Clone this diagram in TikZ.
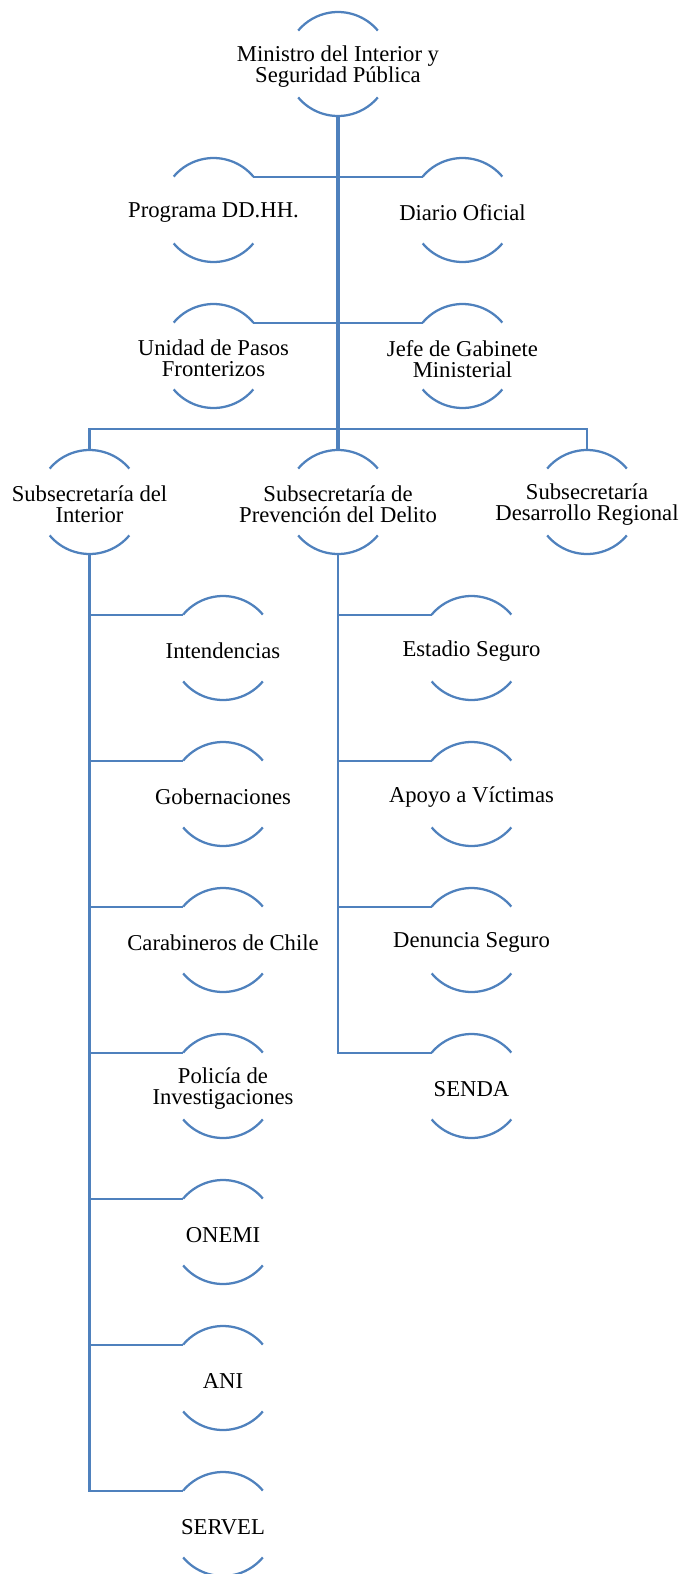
\documentclass[tikz,border=0pt]{standalone}
\usepackage{fontspec}
\setmainfont{Liberation Serif}
\usepackage{tikz}
\usetikzlibrary{calc}

\definecolor{orgblue}{RGB}{79,129,189}

\begin{document}
\begin{tikzpicture}[x=0.75pt, y=0.75pt,
  unit/.style={circle, minimum size=78pt, inner sep=0pt, outer sep=0pt},
  txt/.style={align=center, inner sep=0pt, yshift=-2pt, font=\fontsize{17}{15.75}\selectfont},
  rim/.style={orgblue, line width=1.7pt},
  link/.style={orgblue, line width=1.6pt},
  trunk/.style={orgblue, line width=2.3pt}]
\useasboundingbox (0,0) rectangle (682,-1574);

% top levels
\node[unit, label={[txt]center:{Ministro del Interior y\\Seguridad Pública}}] (min) at (338,-64) {};
\node[unit, label={[txt]center:{Programa DD.HH.}}] (ddhh) at (213.5,-210) {};
\node[unit, label={[txt]center:{Diario Oficial}}] (diario) at (462.5,-210) {};
\node[unit, label={[txt]center:{Unidad de Pasos\\Fronterizos}}] (pasos) at (213.5,-356) {};
\node[unit, label={[txt]center:{Jefe de Gabinete\\Ministerial}}] (jefe) at (462.5,-356) {};

% subsecretarias
\node[unit, label={[txt]center:{Subsecretaría del\\Interior}}] (subint) at (89.5,-502) {};
\node[unit, label={[txt]center:{Subsecretaría de\\Prevención del Delito}}] (subprev) at (338,-502) {};
\node[unit, label={[txt]center:{Subsecretaría\\Desarrollo Regional}}] (subdes) at (587,-502) {};

% under interior
\node[unit, label={[txt]center:{Intendencias}}] (intend) at (223,-648) {};
\node[unit, label={[txt]center:{Gobernaciones}}] (gober) at (223,-794) {};
\node[unit, label={[txt]center:{Carabineros de Chile}}] (carab) at (223,-940) {};
\node[unit, label={[txt]center:{Policía de\\Investigaciones}}] (pdi) at (223,-1086) {};
\node[unit, label={[txt]center:{ONEMI}}] (onemi) at (223,-1232) {};
\node[unit, label={[txt]center:{ANI}}] (ani) at (223,-1378) {};
\node[unit, label={[txt]center:{SERVEL}}] (servel) at (223,-1524) {};

% under prevencion
\node[unit, label={[txt]center:{Estadio Seguro}}] (estadio) at (471.5,-648) {};
\node[unit, label={[txt]center:{Apoyo a Víctimas}}] (apoyo) at (471.5,-794) {};
\node[unit, label={[txt]center:{Denuncia Seguro}}] (denuncia) at (471.5,-940) {};
\node[unit, label={[txt]center:{SENDA}}] (senda) at (471.5,-1086) {};

% arcs above and below every unit
\foreach \n in {min,ddhh,diario,pasos,jefe,subint,subprev,subdes,intend,gober,carab,pdi,onemi,ani,servel,estadio,apoyo,denuncia,senda}{
  \draw[rim] (\n.40) arc[start angle=40, end angle=140, radius=52];
  \draw[rim] (\n.220) arc[start angle=220, end angle=320, radius=52];
}

% connectors
\coordinate (bar) at (338,-429);
\draw[trunk] (min.south) -- (subprev.north);
\draw[link] (ddhh.40) -- (diario.140);
\draw[link] (pasos.40) -- (jefe.140);
\draw[link] (subint.north) |- (bar) -| (subdes.north);
\foreach \n in {intend,gober,carab,pdi,onemi,ani,servel}
  \draw[link] (subint.south) |- (\n.140);
\foreach \n in {estadio,apoyo,denuncia,senda}
  \draw[link] (subprev.south) |- (\n.140);
\end{tikzpicture}
\end{document}
